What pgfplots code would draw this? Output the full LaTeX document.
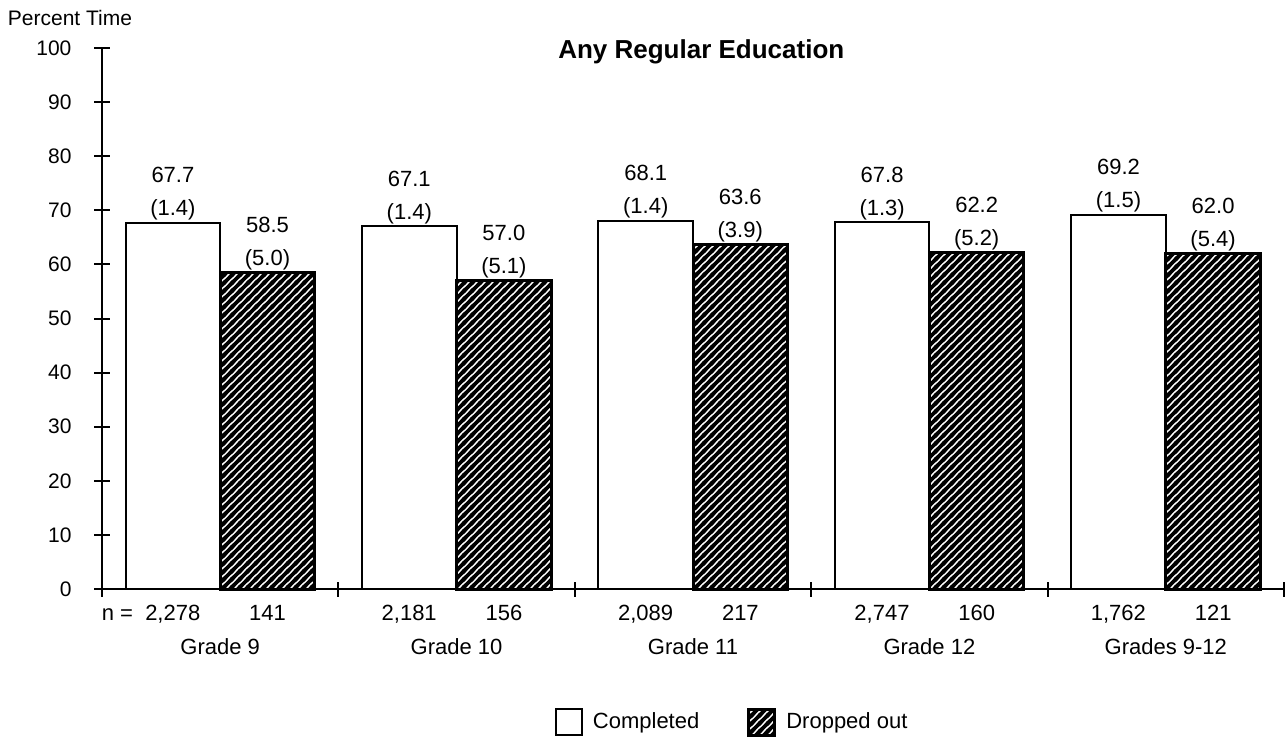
\documentclass[border=0pt]{standalone}
\usepackage{fontspec}
\setmainfont{Liberation Sans}
\usepackage{pgfplots}
\pgfplotsset{compat=1.18}
\usetikzlibrary{patterns}
\pgfdeclarepatternformonly{hatch}{\pgfpoint{-1pt}{-1pt}}{\pgfpoint{5pt}{5pt}}{\pgfpoint{4pt}{4pt}}{%
  \pgfsetlinewidth{1.8pt}%
  \pgfpathmoveto{\pgfpoint{-1pt}{-1pt}}\pgfpathlineto{\pgfpoint{5pt}{5pt}}%
  \pgfpathmoveto{\pgfpoint{3pt}{-1pt}}\pgfpathlineto{\pgfpoint{5pt}{1pt}}%
  \pgfpathmoveto{\pgfpoint{-1pt}{3pt}}\pgfpathlineto{\pgfpoint{1pt}{5pt}}%
  \pgfusepath{stroke}}
\newcommand{\nl}[3]{\makebox[47.4pt]{\llap{#1}#2}\makebox[47.4pt]{#3}}
\begin{document}
\begin{tikzpicture}
\begin{axis}[
  scale only axis, width=591pt, height=270.5pt,
  xmin=-0.5, xmax=4.5, ymin=0, ymax=100,
  axis x line=bottom, axis y line=left,
  axis line style={-},
  x axis line style={line width=1.3pt},
  y axis line style={line width=1pt},
  tick align=center, major tick length=7.5pt,
  tick style={black, line width=1pt},
  ytick={0,10,...,100},
  yticklabel style={font=\fontsize{10.5}{12}\selectfont, xshift=-8pt},
  /pgf/number format/assume math mode=true,
  xtick={-0.5,0.5,1.5,2.5,3.5,4.5},
  xticklabels={,,,,,},
  extra x ticks={0,1,2,3,4},
  extra x tick labels={
    {\nl{n =\ \ }{2,278}{141}\\Grade 9},
    {\nl{}{2,181}{156}\\Grade 10},
    {\nl{}{2,089}{217}\\Grade 11},
    {\nl{}{2,747}{160}\\Grade 12},
    {\nl{}{1,762}{121}\\Grades 9-12}},
  extra x tick style={major tick length=0pt,
    xticklabel style={align=center, font=\fontsize{11}{17}\selectfont, yshift=-4.5pt}},
  title={Any Regular Education},
  title style={at={(0.507,1)}, anchor=center, yshift=-8pt, font=\fontsize{13}{15}\selectfont\bfseries},
  ylabel={Percent Time},
  every axis y label/.style={at={(rel axis cs:0,1)}, anchor=center, xshift=-16pt, yshift=15pt, font=\fontsize{10.5}{12}\selectfont},
  legend style={draw=none, at={(0.534,-0.246)}, anchor=center, legend columns=2,
    font=\fontsize{11}{13}\selectfont,
    /tikz/every odd column/.append style={column sep=3pt},
    /tikz/every even column/.append style={column sep=22pt}},
  legend image code/.code={\draw[#1] (0pt,-6.5pt) rectangle (13pt,6.5pt);},
  clip=false,
]
\addplot[ybar, bar width=0.4, bar shift=-0.2, fill=white, draw=black, line width=1pt]
  coordinates {(0,67.7) (1,67.1) (2,68.1) (3,67.8) (4,69.2)};
\addlegendentry{Completed}
\addplot[ybar, bar width=0.4, bar shift=0.2, fill=white, pattern=hatch, draw=black, line width=1.5pt]
  coordinates {(0,58.5) (1,57.0) (2,63.6) (3,62.2) (4,62.0)};
\addlegendentry{Dropped out}
\addplot[draw=none, mark=none, forget plot, point meta=explicit symbolic, nodes near coords,
  every node near coord/.append style={align=center, anchor=south, inner sep=0pt, yshift=1pt,
    text=black, font=\fontsize{11}{16.5}\selectfont}]
  coordinates {(-0.2,67.7)[67.7\\(1.4)] (0.8,67.1)[67.1\\(1.4)] (1.8,68.1)[68.1\\(1.4)] (2.8,67.8)[67.8\\(1.3)] (3.8,69.2)[69.2\\(1.5)]
               (0.2,58.5)[58.5\\(5.0)] (1.2,57.0)[57.0\\(5.1)] (2.2,63.6)[63.6\\(3.9)] (3.2,62.2)[62.2\\(5.2)] (4.2,62.0)[62.0\\(5.4)]};
\coordinate (A) at (rel axis cs:0,0);
\coordinate (B) at (rel axis cs:1,1);
\end{axis}
\pgfresetboundingbox
\path[use as bounding box] ([xshift=-51pt,yshift=-83pt]A) rectangle ([xshift=1pt,yshift=24pt]B);
\end{tikzpicture}
\end{document}
